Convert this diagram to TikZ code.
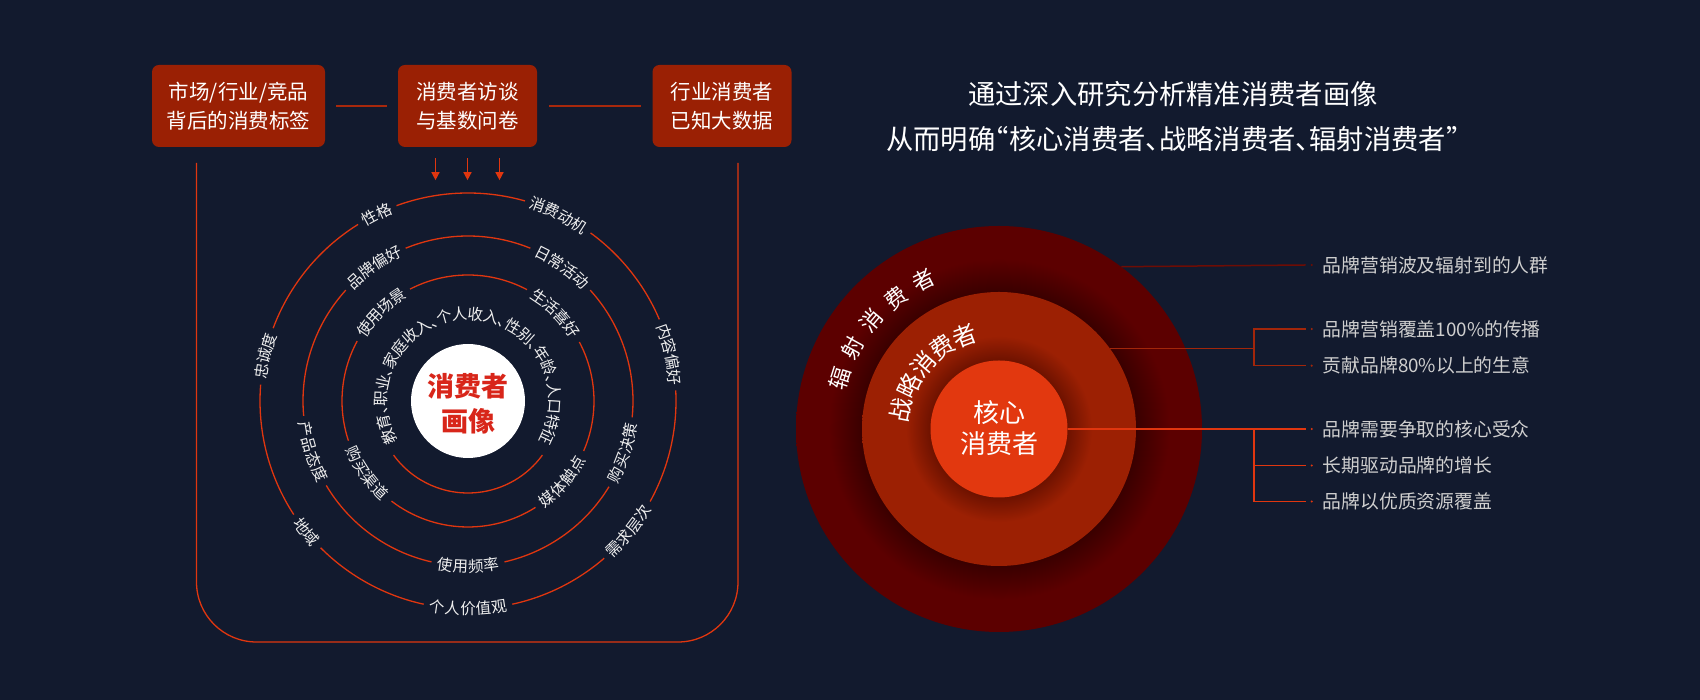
\documentclass[tikz,border=0pt]{standalone}
\usepackage{fontspec}
\setmainfont{Noto Sans CJK SC}
\newfontfamily\cjkh[RawFeature=+halt]{Noto Sans CJK SC}
\usetikzlibrary{arrows.meta,calc}
\definecolor{bg}{HTML}{121A2E}
\definecolor{boxred}{HTML}{9A2004}
\definecolor{linkred}{HTML}{A8280C}
\definecolor{ringred}{HTML}{E0360F}
\definecolor{txt}{HTML}{EEEEEE}
\definecolor{lbl}{HTML}{CFCFCF}
\definecolor{outerc}{HTML}{5C0000}
\definecolor{outerdark}{HTML}{3A0000}
\definecolor{midc}{HTML}{9C2003}
\definecolor{middark}{HTML}{6E1200}
\definecolor{innerc}{HTML}{E2380F}
\definecolor{redtxt}{HTML}{D8261A}
\definecolor{oline}{HTML}{6E0C04}
\definecolor{mline}{HTML}{A2260A}
\pgfdeclareradialshading{outershade}{\pgfpoint{0bp}{0bp}}{color(0bp)=(outerdark); color(16.9bp)=(outerdark); color(21bp)=(outerc); color(25bp)=(outerc); color(50bp)=(outerc)}
\pgfdeclareradialshading{midshade}{\pgfpoint{0bp}{0bp}}{color(0bp)=(middark); color(12.5bp)=(middark); color(17bp)=(midc); color(25bp)=(midc); color(50bp)=(midc)}
\newcommand\arctext[8]{%
  \foreach \gl [count=\k] in {#8}{%
    \pgfmathsetmacro\ang{#4+(#6)*((#7+1)/2-\k)*(#5)}%
    \pgfmathsetmacro\rot{\ang-(#6)*90}%
    \node[glyphnode, rotate=\rot] (#1\k) at ($(#2)+(\ang:#3)$) {\gl};%
  }%
}
\newcommand\ringarc[3]{\draw[ringline] ($(lc)+(#2:#1)$) arc[start angle=#2, end angle=#3, radius=#1];}
\tikzset{
  srcbox/.style={fill=boxred, rounded corners=7pt, minimum height=82pt, text=white,
    font=\fontsize{20.5}{28.5}\selectfont, align=center, inner sep=0pt},
  linkline/.style={draw=linkred, line width=1.8pt},
  ringline/.style={draw=ringred, line width=1.3pt},
  arr/.style={draw=ringred, line width=1.4pt, -{Triangle[width=8pt,length=8pt]}},
  glyphnode/.style={inner sep=0pt, text=txt, font=\cjkh\fontsize{15.5}{16}\selectfont,
    text height=13.6pt, text depth=1.9pt},
  rlabel/.style={anchor=west, inner sep=0pt, text=lbl, font=\fontsize{18.8}{20}\selectfont,
    text height=16.5pt, text depth=2.3pt},
  conn/.style={line width=1.5pt},
}
\begin{document}
\begin{tikzpicture}[x=1pt,y=1pt]
\useasboundingbox (0,0) rectangle (1700,700);
\fill[bg] (0,0) rectangle (1700,700);

% ---------- left: source boxes ----------
\node[srcbox, minimum width=173pt] (b1) at (238.5,594) {市场/行业/竞品\\背后的消费标签};
\node[srcbox, minimum width=139pt] (b2) at (467.5,594) {消费者访谈\\与基数问卷};
\node[srcbox, minimum width=139pt] (b3) at (722,594) {行业消费者\\已知大数据};
\draw[linkline] ([xshift=11pt]b1.east) -- ([xshift=-11pt]b2.west);
\draw[linkline] ([xshift=12pt]b2.east) -- ([xshift=-11pt]b3.west);
\foreach \dx in {-32,0,32}{
  \draw[arr] ([xshift=\dx pt,yshift=-11pt]b2.south) -- ([xshift=\dx pt,yshift=-33pt]b2.south);
}

% U outline
\coordinate (uTL) at (196.5,537);
\coordinate (uBL) at (196.5,58);
\coordinate (uBR) at (738,58);
\coordinate (uTR) at (738,537);
\draw[ringline, rounded corners=60pt] (uTL) -- (uBL) -- (uBR) -- (uTR);

% ---------- left: rings ----------
\coordinate (lc) at (468,299);
\node[circle, fill=white, minimum size=114pt, inner sep=0pt] (core) at (lc) {};
\node[font=\bfseries\fontsize{27}{35.5}\selectfont, text=redtxt, align=center, inner sep=0pt] (coretxt) at ([yshift=-3pt]lc) {消费者\\画像};

% ring A
\ringarc{92}{216}{324}
\xdef\curpos{0}
\foreach \gl/\w [count=\k] in {教/1,育/1,、/0.5,职/1,业/1,、/0.5,家/1,庭/1,收/1,入/1,、/0.5,个/1,人/1,收/1,入/1,、/0.5,性/1,别/1,、/0.5,年/1,龄/1,、/0.5,人/1,口/1,特/1,征/1}{
  \pgfmathsetmacro\ang{209.6-(\curpos+\w/2)*10.4}
  \pgfmathsetmacro\rot{\ang-90}
  \node[glyphnode, rotate=\rot] (ra\k) at ($(lc)+(\ang:87)$) {\gl};
  \pgfmathsetmacro\np{\curpos+\w}
  \xdef\curpos{\np}
}

% ring B (r=126)
\ringarc{126}{62.1}{117.4}
\ringarc{126}{151.6}{198.4}
\ringarc{126}{232.6}{302.4}
\ringarc{126}{336.6}{387.9}
\arctext{rbA}{lc}{126}{134.5}{7.05}{1}{4}{使,用,场,景}
\arctext{rbB}{lc}{126}{45}{7.05}{1}{4}{生,活,喜,好}
\arctext{rbC}{lc}{126}{215.5}{7.05}{-1}{4}{购,买,渠,道}
\arctext{rbD}{lc}{126}{319.5}{7.05}{-1}{4}{媒,体,触,点}

% ring C (r=165)
\ringarc{165}{67.8}{112.2}
\ringarc{165}{137.8}{185.2}
\ringarc{165}{210.8}{257.2}
\ringarc{165}{282.8}{328.7}
\ringarc{165}{354.3}{402.2}
\arctext{rcA}{lc}{165}{125}{5.38}{1}{4}{品,牌,偏,好}
\arctext{rcB}{lc}{165}{55}{5.38}{1}{4}{日,常,活,动}
\arctext{rcC}{lc}{165}{341.5}{5.38}{-1}{4}{购,买,决,策}
\arctext{rcD}{lc}{165}{270}{5.38}{-1}{4}{使,用,频,率}
\arctext{rcE}{lc}{165}{198}{5.38}{-1}{4}{产,品,态,度}

% ring D (r=208)
\ringarc{208}{74.1}{110.1}
\ringarc{208}{121.9}{159.5}
\ringarc{208}{175.5}{213.1}
\ringarc{208}{224.9}{257.7}
\ringarc{208}{282.3}{310.9}
\ringarc{208}{331.1}{362.9}
\ringarc{208}{23.1}{53.9}
\arctext{rdA}{lc}{208}{116}{4.27}{1}{2}{性,格}
\arctext{rdB}{lc}{208}{64}{4.27}{1}{4}{消,费,动,机}
\arctext{rdC}{lc}{208}{13}{4.27}{1}{4}{内,容,偏,好}
\arctext{rdD}{lc}{208}{321}{4.27}{-1}{4}{需,求,层,次}
\arctext{rdE}{lc}{208}{270}{4.27}{-1}{5}{个,人,价,值,观}
\arctext{rdF}{lc}{208}{219}{4.27}{-1}{2}{地,域}
\arctext{rdG}{lc}{208}{167.5}{4.27}{1}{3}{忠,诚,度}

% ---------- right ----------
\node[font=\cjkh\fontsize{27.3}{45}\selectfont, text=white, align=center, inner sep=0pt] (title) at (1173,583)
  {通过深入研究分析精准消费者画像\\从而明确“核心消费者、战略消费者、辐射消费者”};

\coordinate (rc) at (999,271);
\node[circle, minimum size=406pt, inner sep=0pt, shading=outershade] (outer) at (rc) {};
\node[circle, minimum size=274pt, inner sep=0pt, shading=midshade] (middle) at (rc) {};
\node[circle, minimum size=137pt, inner sep=0pt, fill=innerc] (inner) at (rc) {};
\node[text=white, font=\fontsize{26}{31.5}\selectfont, align=center, inner sep=0pt] (innertxt) at ([yshift=1pt]rc) {核心\\消费者};
\begin{scope}[glyphnode/.style={inner sep=0pt, text=white, font=\fontsize{22}{22}\selectfont, text height=19.4pt, text depth=2.6pt}]
\arctext{fs}{rc}{167}{139.7}{11.4}{1}{5}{辐,射,消,费,者}
\end{scope}
\begin{scope}[glyphnode/.style={inner sep=0pt, text=white, font=\fontsize{24}{24}\selectfont, text height=21.1pt, text depth=2.9pt}]
\arctext{zl}{rc}{99.5}{139.7}{14.8}{1}{5}{战,略,消,费,者}
\end{scope}

\node[rlabel] (l1) at (1322.7,435) {品牌营销波及辐射到的人群};
\node[rlabel] (l2) at (1322.7,371) {品牌营销覆盖100\%的传播};
\node[rlabel] (l3) at (1322.7,334.3) {贡献品牌80\%以上的生意};
\node[rlabel] (l4) at (1322.7,271) {品牌需要争取的核心受众};
\node[rlabel] (l5) at (1322.7,234.5) {长期驱动品牌的增长};
\node[rlabel] (l6) at (1322.7,198.5) {品牌以优质资源覆盖};
\coordinate (bx) at (1254,0);

\draw[conn, draw=oline] (outer.53.9) -- ([xshift=-17pt]l1.west);
\draw[conn, draw=mline] (middle.36.6) -- (middle.36.6 -| bx);
\draw[conn, draw=mline] ([xshift=-17pt]l2.west) -- (l2.west -| bx) -- (l3.west -| bx) -- ([xshift=-17pt]l3.west);
\draw[conn, draw=ringred] (inner.east) -- ([xshift=-17pt]l4.west);
\draw[conn, draw=ringred] (l4.west -| bx) -- (l6.west -| bx) -- ([xshift=-17pt]l6.west);
\draw[conn, draw=ringred] (l5.west -| bx) -- ([xshift=-17pt]l5.west);
\fill[oline] ([xshift=-11pt]l1.west) circle (1.2pt);
\fill[mline] ([xshift=-11pt]l2.west) circle (1.2pt);
\fill[mline] ([xshift=-11pt]l3.west) circle (1.2pt);
\fill[ringred] ([xshift=-11pt]l4.west) circle (1.2pt);
\fill[ringred] ([xshift=-11pt]l5.west) circle (1.2pt);
\fill[ringred] ([xshift=-11pt]l6.west) circle (1.2pt);
\end{tikzpicture}
\end{document}
